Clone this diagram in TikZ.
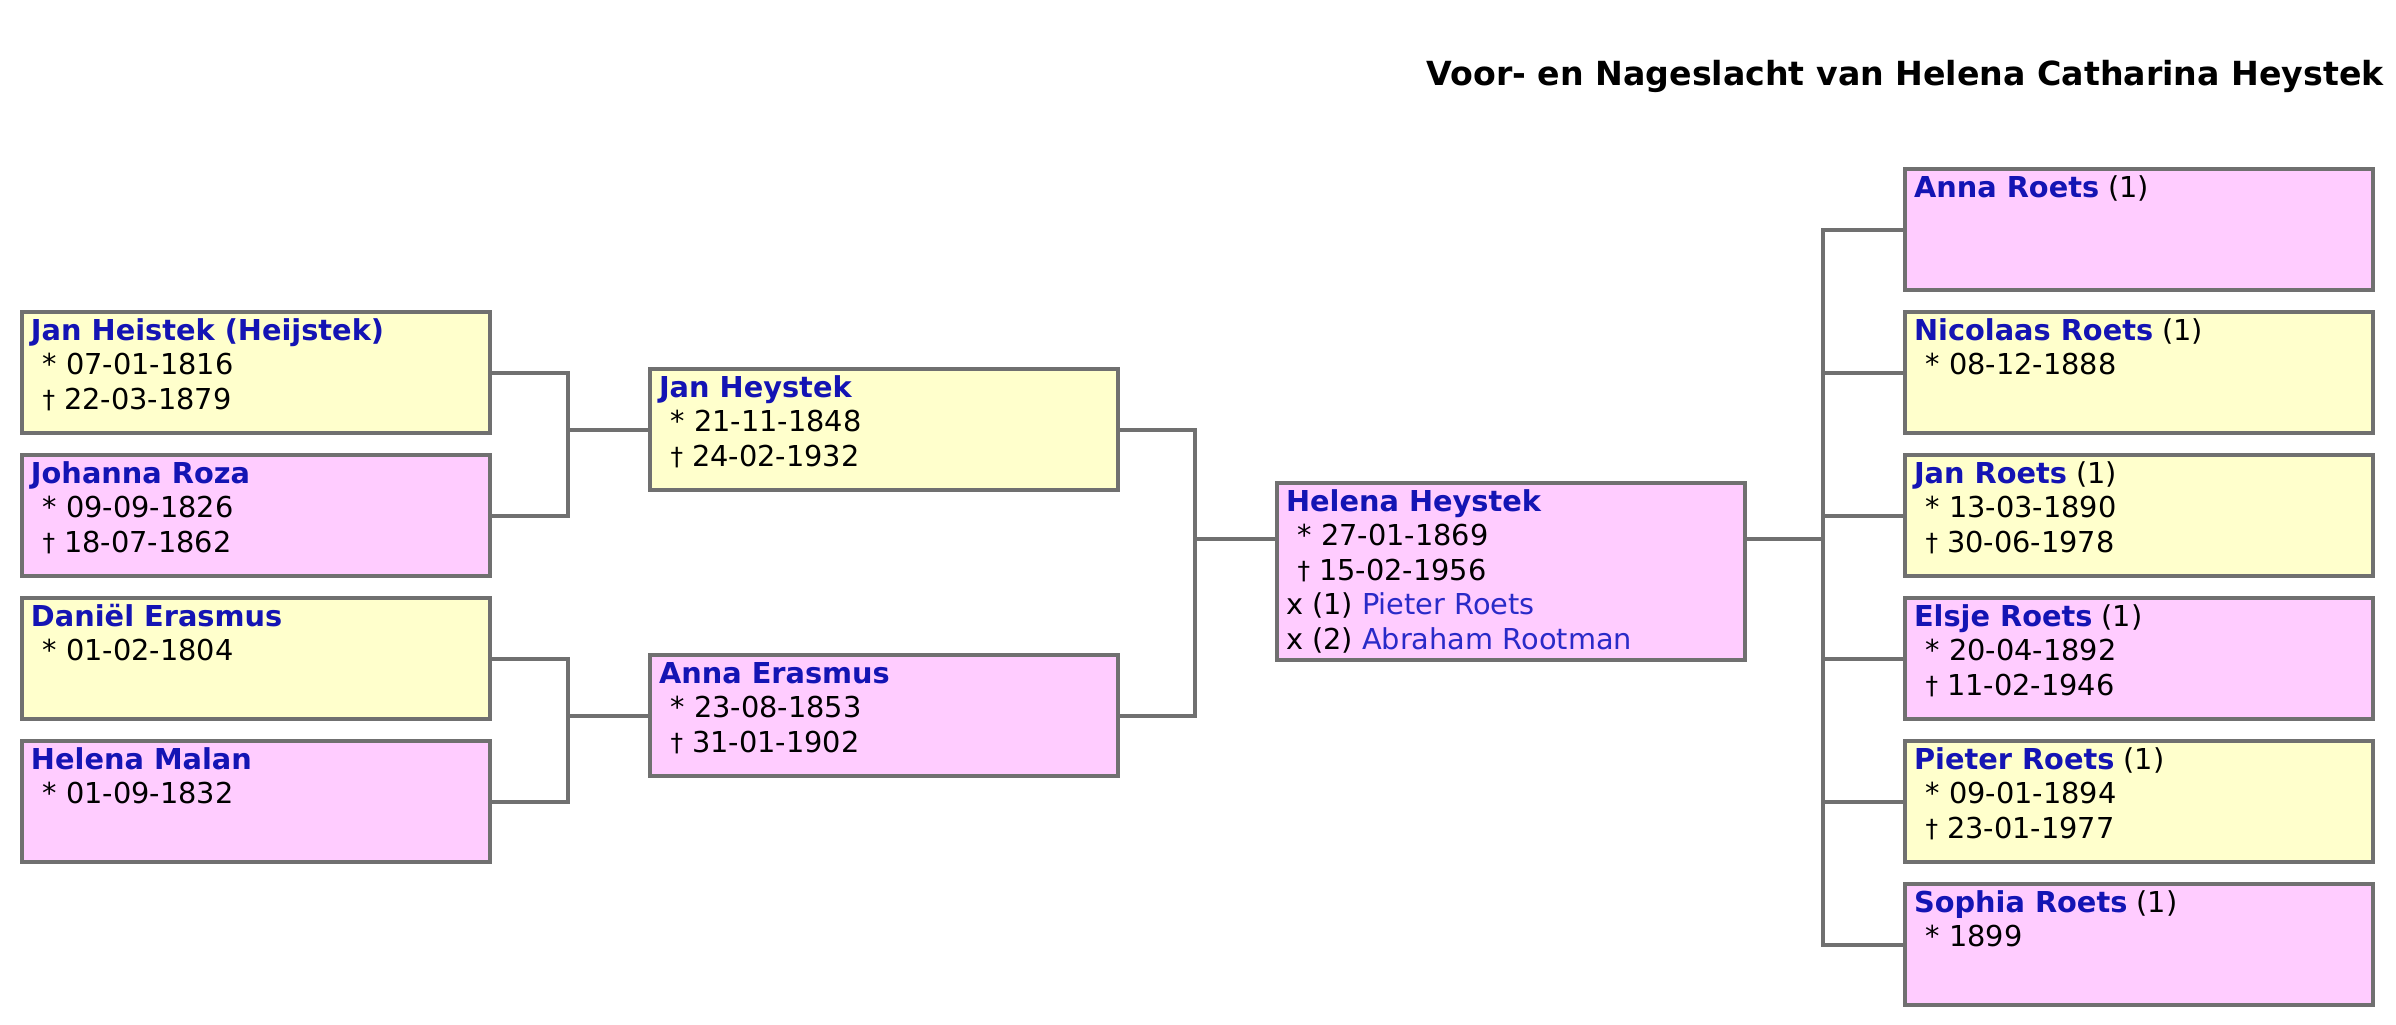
\documentclass[tikz,border=0pt]{standalone}
\usepackage{fontspec}
\setmainfont{DejaVu Sans}
\usetikzlibrary{calc}
\definecolor{yel}{HTML}{FFFFCC}
\definecolor{pnk}{HTML}{FFCCFF}
\definecolor{brd}{HTML}{707070}
\definecolor{nameblue}{HTML}{1414B4}
\definecolor{linkblue}{HTML}{2A2AC8}
\newcommand{\nm}[1]{\textbf{\color{nameblue}#1}}
\newcommand{\ind}{\hspace*{0.4em}}
\newcommand{\dg}{{\fontsize{12.5pt}{17.25pt}\selectfont\raisebox{0.5pt}{†}}}
\newcommand{\pcont}[2]{\parbox[c][#1][t]{225pt}{\fontsize{14.4pt}{17.25pt}\selectfont\raggedright\rule{0pt}{14pt}#2}}
\tikzset{
  pbox/.style={draw=brd, line width=2pt, inner sep=0pt, anchor=north west,
               minimum width=234pt, minimum height=60.5pt},
  male/.style={pbox, fill=yel},
  fem/.style={pbox, fill=pnk},
  conn/.style={draw=brd, line width=2pt},
}
\begin{document}
\begin{tikzpicture}[x=0.5pt,y=-0.5pt]
\useasboundingbox[fill=white] (0,0) rectangle (2396,1024);

\node[anchor=base east, inner sep=0pt, font=\fontsize{16.6pt}{20pt}\selectfont\bfseries] (title) at (2384,85)
  {Voor- en Nageslacht van Helena Catharina Heystek};

% grandparents
\node[male] (A) at (20,310) {\pcont{60.5pt}{\nm{Jan Heistek (Heijstek)}\\\ind* 07-01-1816\\\ind\dg\ 22-03-1879}};
\node[fem]  (B) at (20,453) {\pcont{60.5pt}{\nm{Johanna Roza}\\\ind* 09-09-1826\\\ind\dg\ 18-07-1862}};
\node[male] (C) at (20,596) {\pcont{60.5pt}{\nm{Daniël Erasmus}\\\ind* 01-02-1804}};
\node[fem]  (D) at (20,739) {\pcont{60.5pt}{\nm{Helena Malan}\\\ind* 01-09-1832}};

% parents
\node[male] (JH) at (648,367) {\pcont{60.5pt}{\nm{Jan Heystek}\\\ind* 21-11-1848\\\ind\dg\ 24-02-1932}};
\node[fem]  (AE) at (648,653) {\pcont{60.5pt}{\nm{Anna Erasmus}\\\ind* 23-08-1853\\\ind\dg\ 31-01-1902}};

% central person
\node[fem, minimum height=88.5pt] (HH) at (1275,481) {\pcont{88.5pt}{\nm{Helena Heystek}\\\ind* 27-01-1869\\\ind\dg\ 15-02-1956\\x (1) {\color{linkblue}Pieter Roets}\\x (2) {\color{linkblue}Abraham Rootman}}};

% children
\node[fem]  (K1) at (1903,167) {\pcont{60.5pt}{\nm{Anna Roets} (1)}};
\node[male] (K2) at (1903,310) {\pcont{60.5pt}{\nm{Nicolaas Roets} (1)\\\ind* 08-12-1888}};
\node[male] (K3) at (1903,453) {\pcont{60.5pt}{\nm{Jan Roets} (1)\\\ind* 13-03-1890\\\ind\dg\ 30-06-1978}};
\node[fem]  (K4) at (1903,596) {\pcont{60.5pt}{\nm{Elsje Roets} (1)\\\ind* 20-04-1892\\\ind\dg\ 11-02-1946}};
\node[male] (K5) at (1903,739) {\pcont{60.5pt}{\nm{Pieter Roets} (1)\\\ind* 09-01-1894\\\ind\dg\ 23-01-1977}};
\node[fem]  (K6) at (1903,882) {\pcont{60.5pt}{\nm{Sophia Roets} (1)\\\ind* 1899}};

% junction coordinates
\coordinate (j1) at (568,0);
\coordinate (j2) at (1195,0);
\coordinate (j3) at (1823,0);
\coordinate (hw) at ($(HH.north west)+(0,58)$);
\coordinate (he) at ($(HH.north east)+(0,58)$);

% connectors
\draw[conn] (A.east) -- (A.east -| j1) -- (B.east -| j1) -- (B.east);
\draw[conn] (JH.west -| j1) -- (JH.west);
\draw[conn] (C.east) -- (C.east -| j1) -- (D.east -| j1) -- (D.east);
\draw[conn] (AE.west -| j1) -- (AE.west);

\draw[conn] (JH.east) -- (JH.east -| j2) -- (AE.east -| j2) -- (AE.east);
\draw[conn] (hw -| j2) -- (hw);

\draw[conn] (he) -- (he -| j3);
\draw[conn] (K1.west) -- (K1.west -| j3) -- (K6.west -| j3) -- (K6.west);
\foreach \k in {K2,K3,K4,K5} { \draw[conn] (\k.west -| j3) -- (\k.west); }
\end{tikzpicture}
\end{document}
